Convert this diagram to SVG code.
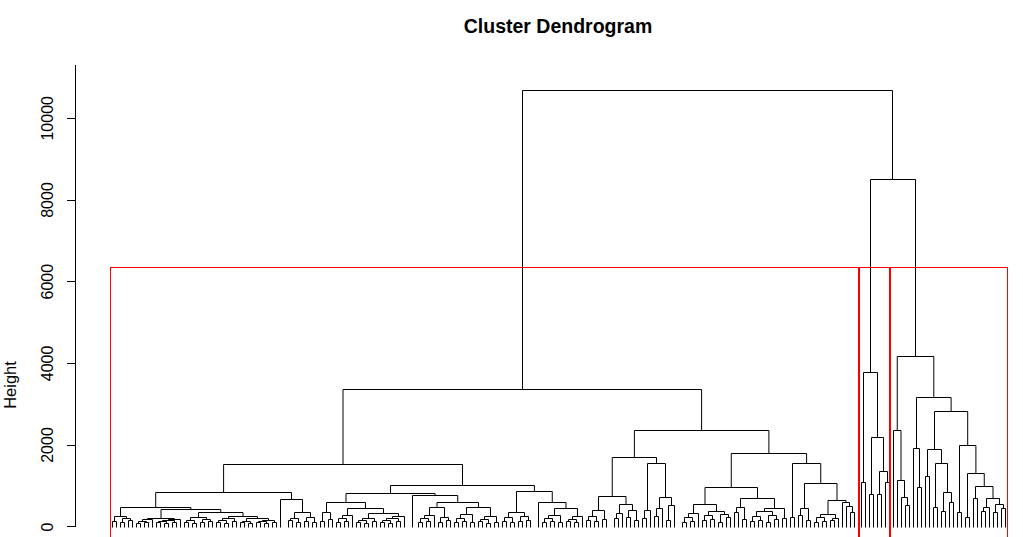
<svg xmlns="http://www.w3.org/2000/svg" width="1023" height="537" viewBox="0 0 1023 537">
<style>
.t{font-family:"Liberation Sans",Arial,sans-serif;fill:#000}
.tick{font-size:16px;text-anchor:middle}
.ax{stroke:#000;stroke-width:1;fill:none}
.den{stroke:#000;stroke-width:1;fill:none}
.cut{stroke:#FF0000;stroke-width:1;fill:none}
</style>
<rect width="1023" height="537" fill="#fff"/>
<g id="title"><text class="t" x="558" y="33" font-size="19.5" font-weight="bold" text-anchor="middle">Cluster Dendrogram</text></g>
<g id="axis">
<path class="ax" d="M75.5 65V527M75.5 526.5H67M75.5 445.5H67M75.5 363.5H67M75.5 281.5H67M75.5 200.5H67M75.5 118.5H67"/>
<text class="t tick" transform="translate(53,527) rotate(-90)">0</text>
<text class="t tick" transform="translate(53,445) rotate(-90)">2000</text>
<text class="t tick" transform="translate(53,363.4) rotate(-90)">4000</text>
<text class="t tick" transform="translate(53,281.7) rotate(-90)">6000</text>
<text class="t tick" transform="translate(53,200) rotate(-90)">8000</text>
<text class="t tick" transform="translate(53,118.3) rotate(-90)">10000</text>
<text class="t" transform="translate(16,385) rotate(-90)" font-size="16.5" text-anchor="middle">Height</text>
</g>
<g id="connectors" transform="translate(0.5,0.5)">
<g id="cluster1">
<path class="den" d="M112 527V521H116V527M120 527V522H124V527M128 527V520H132V527M122 522V518H130V520M114 521V516H126V518
M136 527V523H140V527M144 527V522H148V527M138 523V521H146V522M142 521V519H152V527M156 527V522H160V527M164 527V523H168V527M158 522V521H166V523M172 527V522H176V527M162 521V520H174V522M168 520V519H180V527M147 519V518H174V519
M184 527V522H188V527M192 527V523H196V527M186 522V520H194V523M200 527V522H204V527M208 527V521H212V527M202 522V519H210V521M190 520V517H206V519
M216 527V522H220V527M224 527V523H228V527M218 522V520H226V523M232 527V521H236V527M222 520V518H234V521M240 527V522H244V527M248 527V523H252V527M242 522V521H250V523M256 527V522H260V527M264 527V523H268V527M258 522V521H266V523M272 527V522H276V527M262 521V520H274V522M246 521V518H268V520M228 518V516H257V518M198 517V512H242.5V516M160.5 518V509H220.25V512M120 516V507H190.4V509
M288 527V520H292V527M296 527V522H300V527M290 520V518H298V522M304 527V521H308V527M312 527V522H316V527M306 521V517H314V522M294 518V512H310V517M280 527V499H302V512M155.2 507V492H291V499
M320 527V521H324V527M328 527V519H332V527M322 521V512H330V519
M336 527V522H340V527M344 527V521H348V527M338 522V518H346V521M342 518V515H352V527
M356 527V522H360V527M364 527V523H368V527M358 522V520H366V523M372 527V521H376V527M362 520V518H374V521M380 527V522H384V527M388 527V523H392V527M382 522V520H390V523M396 527V521H400V527M386 520V518H398V521M392 518V516H404V527M368 518V513H398V516M347 515V508H383V513M326 512V502H365V508
M418 527V522H422V527M426 527V521H430V527M420 522V518H428V521M424 518V515H434V527M438 527V522H442V527M446 527V520H450V527M440 522V517H448V520M429 515V507H444V517
M454 527V522H458V527M462 527V521H466V527M456 522V518H464V521M470 527V522H474V527M460 518V514H472V522M478 527V521H482V527M486 527V523H490V527M480 521V519H488V523M494 527V522H498V527M484 519V516H496V522M466 514V507H490V516
M436.5 507V502H478V507M412 527V495H457.25V502M345.5 502V493H434.6V495
M502 527V521H506V527M510 527V522H514V527M504 521V517H512V522M518 527V521H522V527M526 527V520H530V527M520 521V516H528V520M508 517V512H524V516
M542 527V522H546V527M550 527V521H554V527M544 522V518H552V521M558 527V522H562V527M548 518V515H560V522M566 527V521H570V527M574 527V522H578V527M568 521V519H576V522M572 519V516H582V527M554 515V508H577V516
M538 527V502H565.5V508M516 512V491H551.75V502M390 493V485H533.9V491M223.1 492V464H462V485
M586 527V520H590V527M594 527V521H598V527M588 520V516H596V521M602 527V519H606V527M592 516V510H604V519
M614 527V518H618V527M616 518V513H622V527M626 527V517H630V527M634 527V520H638V527M628 517V510H636V520M619 513V504H632V510M598 510V496H625.5V504
M642 527V518H646V527M644 518V510H650V527M654 527V516H658V527M656 516V508H662V527M666 527V520H670V527M668 520V505H674V527M659 508V497H671V505M647 510V463H665V497M611.75 496V457H656V463
M682 527V522H686V527M690 527V521H694V527M684 522V517H692V521M688 517V513H698V527
M702 527V520H706V527M710 527V519H714V527M704 520V515H712V519M718 527V522H722V527M726 527V517H730V527M720 522V514H728V517M708 515V511H724V514M693 513V504H716V511
M734 527V512H738V527M742 527V519H746V527M736 512V507H744V519
M750 527V521H754V527M758 527V520H762V527M752 521V516H760V520M766 527V522H770V527M774 527V519H778V527M768 522V515H776V519M756 516V511H772V515M782 527V518H786V527M764 511V508H784V518M740 507V498H774V508M704.5 504V487H757V498
M790 527V517H794V527M798 527V515H802V527M806 527V520H810V527M800 515V508H808V520
M814 527V522H818V527M822 527V521H826V527M816 522V517H824V521M830 527V520H834V527M832 520V518H838V527M820 517V514H835V518
M850 527V512H854V527M846 527V506H852V512M842 527V502H849V506M827.5 514V500H845.5V502M804 508V483H836.5V500M792 517V463H820.25V483M730.75 487V453H806.1V463M633.9 457V430H768.4V453
M342.5 464V389H701.1V430"/>
</g>
<g id="cluster2">
<path class="den" d="M861 527V482H865V527M869 527V494H873V527M877 527V494H881V527M885 527V482H889V527M879 494V471H887V482M871 494V437H883V471M863 482V372H877V437"/>
</g>
<g id="cluster3">
<path class="den" d="M905 527V505H909V527M901 527V497H907V505M897 527V480H904V497M893 527V430H900.5V480M917 527V487H921V527M913 527V448H919V487M925 527V476H929V527M933 527V507H937V527M941 527V511H945V527M949 527V502H953V527M943 511V492H951V502M935 507V463H947V492M927 476V449H941V463M957 527V512H961V527M965 527V517H969V527M973 527V498H977V527M981 527V511H985V527M983 511V507H989V527M993 527V512H997V527M1001 527V508H1005V527M995 512V504H1003V508M986 507V498H999V504M975 498V486H992.5V498M967 517V473H983.75V486M959 512V445H975.4V473M934 449V411H967.2V445M916 448V397H950.6V411M896.75 430V356H933.3V397"/>
</g>
<g id="root"><path class="den" d="M870 372V179H915V356M522 389V90H892V179"/></g>
</g>
<g id="cut">
<rect class="cut" x="110.5" y="267.5" width="748" height="290"/>
<rect class="cut" x="859.5" y="267.5" width="30" height="290"/>
<rect class="cut" x="890.5" y="267.5" width="117" height="290"/>
</g>
</svg>
